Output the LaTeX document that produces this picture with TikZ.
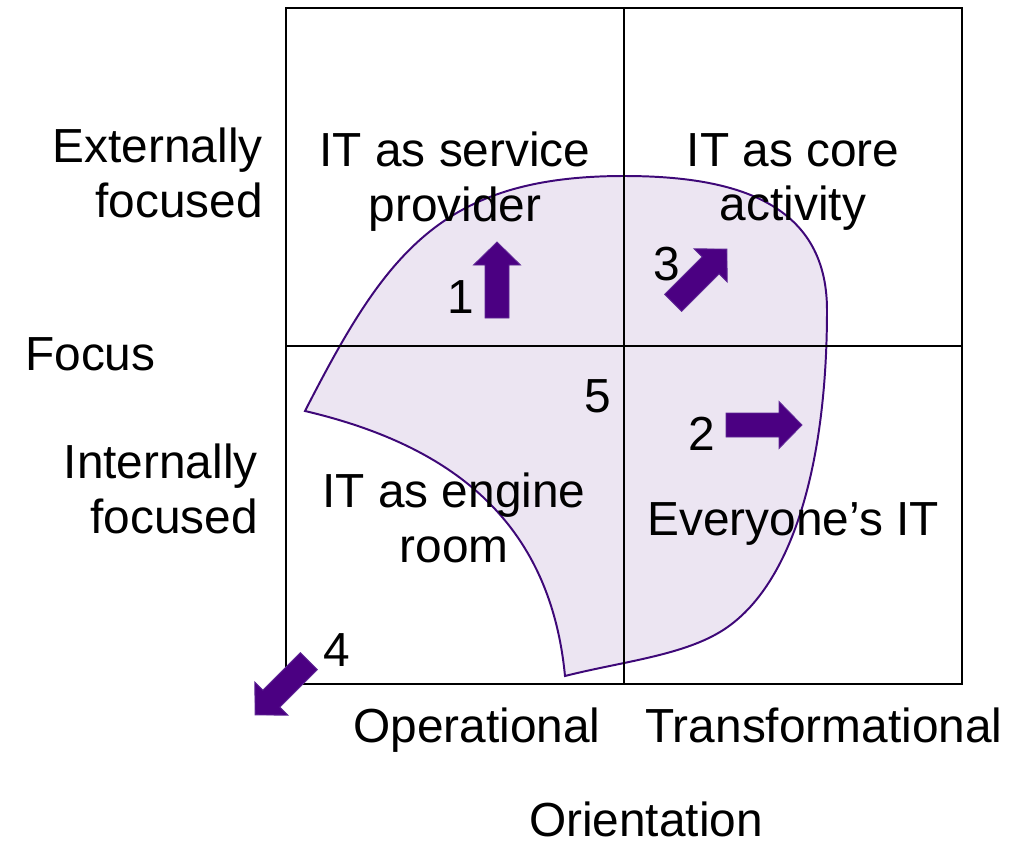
\documentclass[tikz,border=0pt]{standalone}
\usepackage{fontspec}
\setmainfont{Liberation Sans}
\usepackage{tikz}
\usetikzlibrary{calc}
\definecolor{blobfill}{RGB}{236,229,242}
\definecolor{blobline}{RGB}{62,8,120}
\definecolor{arrowfill}{RGB}{75,0,130}
\definecolor{arrowline}{RGB}{95,40,150}
\tikzset{lbl/.style={inner sep=0pt,font=\fontsize{34}{39}\selectfont},
         num/.style={lbl,anchor=base},
         blockarrow/.pic={\filldraw[fill=arrowfill,draw=arrowline,line width=0.6pt]
            (-38,-12) -- (15,-12) -- (15,-23.5) -- (38,0) -- (15,23.5) -- (15,12) -- (-38,12) -- cycle;}}

\begin{document}
\begin{tikzpicture}[x=0.025cm,y=-0.025cm]
    \useasboundingbox (0,0) rectangle (1022,843);

    % shaded region
    \filldraw[fill=blobfill,draw=blobline,line width=1.4pt]
        (565,676) .. controls (550,520) and (450,445) .. (305,411)
        .. controls (385,255) and (440,176) .. (624,176)
        .. controls (730,176) and (827,200) .. (827,310)
        .. controls (827,470) and (790,590) .. (720,632)
        .. controls (680,656) and (620,662) .. cycle;

    % grid
    \draw[line width=1.5pt] (286,8) rectangle (962,684);
    \draw[line width=1.5pt] (624,8) -- (624,684);
    \draw[line width=1.5pt] (286,346) -- (962,346);

    \node[lbl,align=center] (sp) at (455,182) {IT as service\\provider};
    \node[lbl,align=center] (ca) at (793,182) {IT as core\\activity};
    \node[lbl,align=center] (er) at (454,518) {IT as engine\\room};
    \node[num] (ei) at (793,535) {Everyone’s IT};

    \node[lbl,align=right,anchor=east] (ext) at (263,173) {Externally\\focused};
    \node[num,anchor=base west] (foc) at (25,370) {Focus};
    \node[lbl,align=right,anchor=east] (int) at (258,489) {Internally\\focused};

    \node[num] (op) at (477,742) {Operational};
    \node[num] (tr) at (824,742) {Transformational};
    \node[num] (ori) at (646,836) {Orientation};

    \node[num] (n1) at (461,313) {1};
    \node[num] (n2) at (702,450) {2};
    \node[num] (n3) at (667,280) {3};
    \node[num] (n4) at (337,666) {4};
    \node[num] (n5) at (598,412) {5};

    \pic[rotate=90] at (497,280) {blockarrow};
    \pic at (764,425) {blockarrow};
    \pic[rotate=45] at (700,276) {blockarrow};
    \pic[rotate=225] at (282,688) {blockarrow};
\end{tikzpicture}
\end{document}
